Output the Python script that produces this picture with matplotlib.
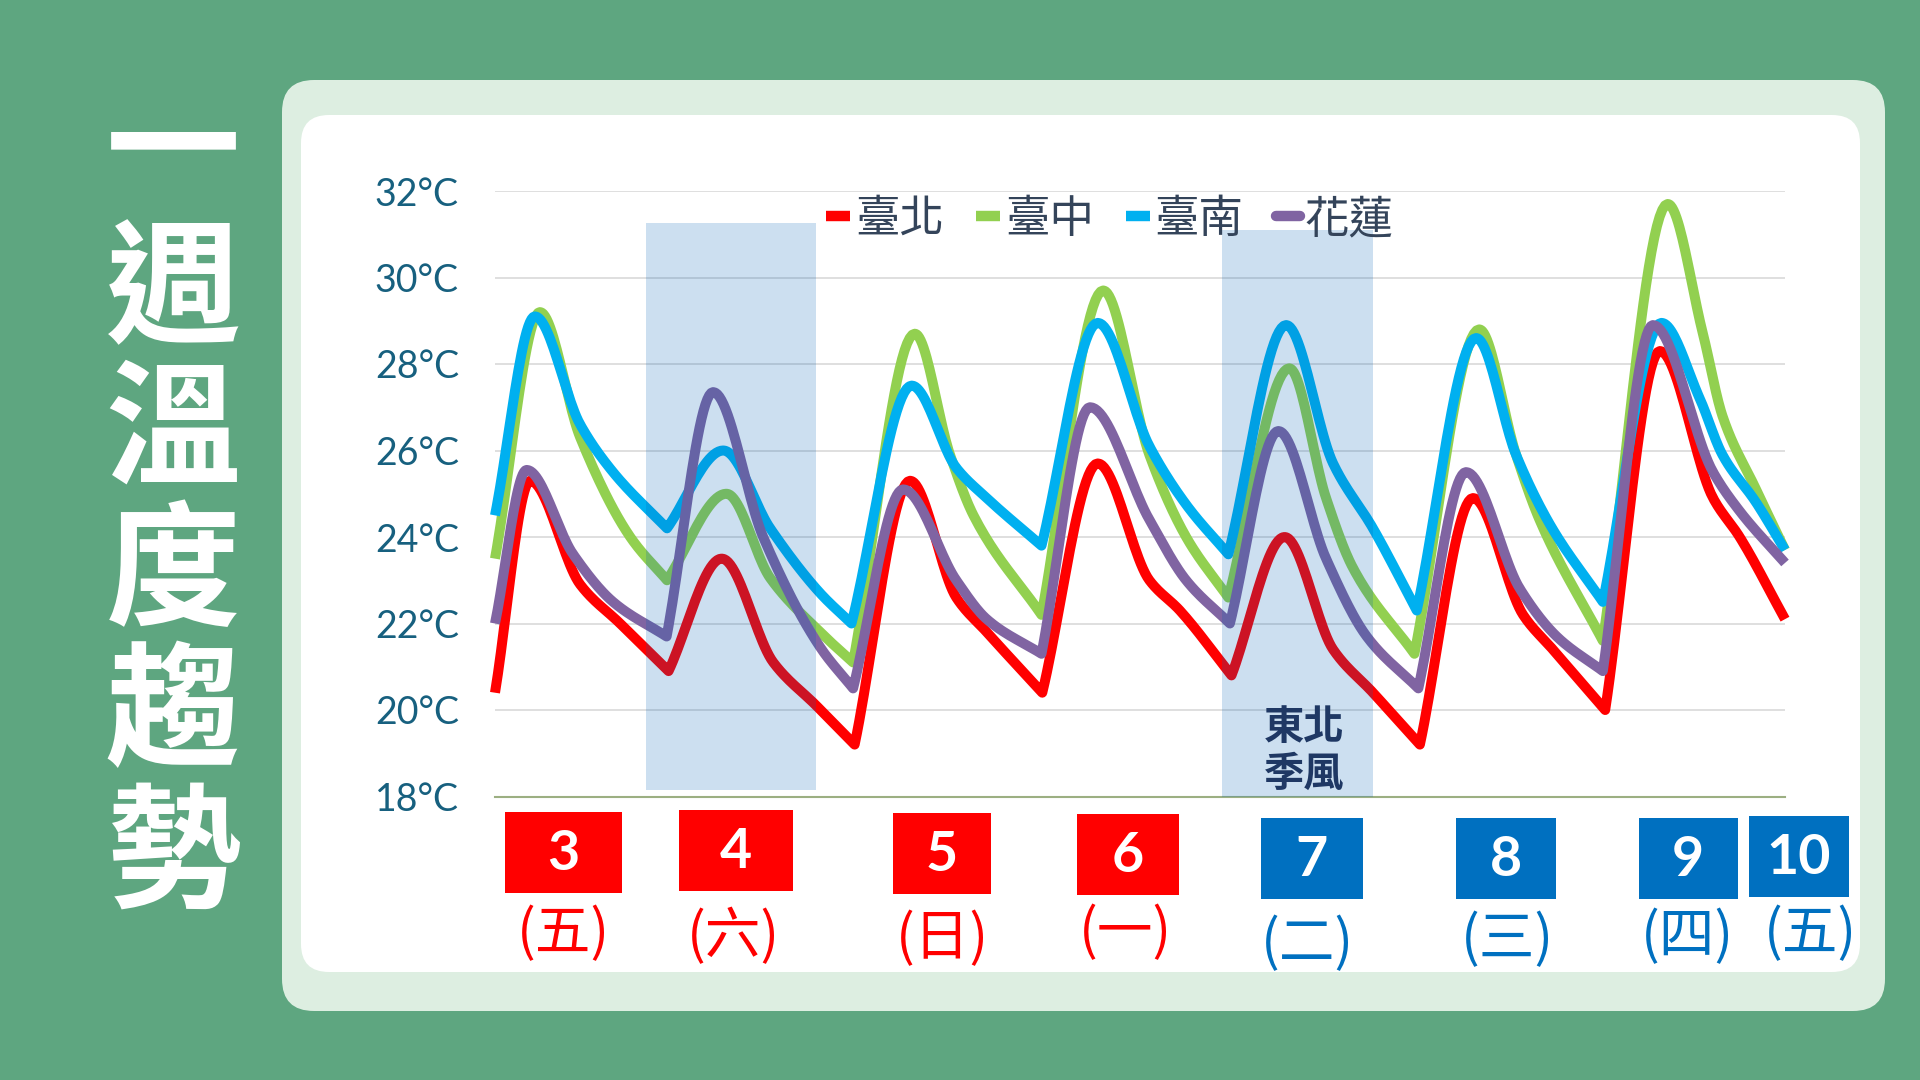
"""一週溫度趨勢: four-city temperature trend with date boxes underneath."""
import numpy as np
import matplotlib
matplotlib.use('Agg')
import matplotlib.pyplot as plt
from matplotlib.patches import Rectangle, FancyBboxPatch
from matplotlib.lines import Line2D
from matplotlib.transforms import IdentityTransform

# ---- data (hours after the first sample, degrees C) ----
cities = ['臺北', '臺中', '臺南', '花蓮']

taipei_h = [0, 4.5, 10.9, 16.0, 22.2, 29.0, 35.6, 41.1, 46.0, 53.1, 59.0, 62.9, 70.0, 77.1,
            83.7, 87.6, 94.2, 101.0, 107.2, 112.3, 118.3, 125.1, 131.5, 135.3, 142.0, 149.0,
            155.8, 159.2, 165]
taipei_t = [20.4, 25.3, 22.9, 22.0, 20.9, 23.5, 21.1, 20.1, 19.2, 25.3, 22.6, 21.8, 20.4, 25.7,
            23.0, 22.3, 20.8, 24.0, 21.4, 20.4, 19.2, 24.9, 22.2, 21.4, 20.0, 28.3,
            24.9, 24.0, 22.1]

taichung_h = [0, 5.75, 10.9, 17.3, 22.0, 29.6, 35.2, 41.6, 45.8, 53.7, 58.2, 61.2, 69.9, 77.8,
              83.7, 88.4, 93.8, 101.6, 106.3, 109.7, 117.6, 125.9, 130.6, 133.6, 141.7, 150.0,
              154.5, 157.0, 161.3, 165]
taichung_t = [23.5, 29.2, 26.3, 24.0, 23.0, 25.0, 23.05, 21.8, 21.1, 28.7, 25.9, 24.5, 22.2, 29.7,
              25.9, 24.0, 22.6, 27.9, 24.9, 23.3, 21.3, 28.8, 25.9, 24.4, 21.6, 31.7,
              28.7, 26.8, 25.1, 23.7]

tainan_h = [0, 5.1, 10.9, 15.1, 22.0, 29.2, 35.2, 41.6, 45.6, 53.3, 59.0, 62.9, 69.9, 77.1,
            83.7, 88.4, 93.8, 101.2, 107.2, 112.3, 117.9, 125.5, 130.6, 134.9, 141.7, 149.2,
            154.1, 157.0, 161.3, 165]
tainan_t = [24.5, 29.1, 26.6, 25.5, 24.2, 26.0, 24.2, 22.7, 22.0, 27.5, 25.6, 24.9, 23.8, 28.95,
            26.1, 24.75, 23.6, 28.9, 25.7, 24.2, 22.3, 28.6, 25.9, 24.3, 22.5, 28.95,
            27.2, 25.9, 24.8, 23.7]

hualien_h = [0, 4.05, 10.0, 15.1, 21.95, 27.9, 34.3, 41.6, 45.8, 52.2, 59.0, 62.9, 69.9, 76.1,
             83.7, 88.4, 94.0, 100.2, 106.3, 111.5, 118.1, 124.2, 131.1, 135.8, 141.7, 148.1,
             155.8, 159.2, 165]
hualien_t = [22.0, 25.55, 23.6, 22.5, 21.7, 27.35, 24.0, 21.45, 20.5, 25.1, 23.0, 22.1, 21.3, 27.0,
             24.4, 23.0, 22.0, 26.45, 23.5, 21.7, 20.5, 25.5, 22.8, 21.7, 20.9, 28.9,
             25.5, 24.6, 23.4]

# shaded periods (start hour, end hour, low, high) and their note
shade_spans = [(19.3, 41.1, 18.15, 31.25), (93.0, 112.3, 18.0, 31.1)]
monsoon_note = '東北\n季風'

yticks = [18, 20, 22, 24, 26, 28, 30, 32]
day_numbers = ['3', '4', '5', '6', '7', '8', '9', '10']
weekdays = ['(五)', '(六)', '(日)', '(一)', '(二)', '(三)', '(四)', '(五)']
title_chars = ['一', '週', '溫', '度', '趨', '勢']

# ---- style / layout ----
W, H = 1920, 1080
BG = '#5ea680'
MINT = '#ddeee1'
colors = ['#ff0000', '#92d050', '#00b0f0', '#8064a2']
RED, BLUE = '#ff0000', '#0070c0'
CJK = ['Noto Sans CJK TC', 'DejaVu Sans']

# date box centres (pixels) and widths, weekday label centres
box_pos = [(563, 852, 117), (736, 850, 114), (942, 853, 99), (1128, 854, 102),
           (1312, 858, 102), (1506, 858, 100), (1688, 858, 99), (1799, 856, 100)]
wd_pos = [(563, 934), (733, 937), (942, 939), (1125, 933),
          (1307, 944), (1507, 940), (1687, 937), (1810, 934)]


def smooth(xs, ys, n=24):
    # cubic Hermite through the points: rounded peaks, sharp troughs, no wobble
    x = np.asarray(xs, float)
    y = np.asarray(ys, float)
    d = np.diff(y) / np.diff(x)
    h = np.diff(x)
    m_out = np.zeros(len(x))   # tangent leaving point k
    m_in = np.zeros(len(x))    # tangent arriving at point k
    m_out[0] = m_in[0] = d[0]
    m_out[-1] = m_in[-1] = d[-1]
    for k in range(1, len(x) - 1):
        a, b = d[k - 1], d[k]
        if a < 0 < b:            # trough: keep the corner
            m_in[k], m_out[k] = a, b
        elif a * b <= 0:         # peak: flat top
            m_in[k] = m_out[k] = 0.0
        else:
            w1 = 2 * h[k] + h[k - 1]
            w2 = h[k] + 2 * h[k - 1]
            m_in[k] = m_out[k] = (w1 + w2) / (w1 / a + w2 / b)
    t = np.linspace(0, 1, n, endpoint=False)
    h00 = 2 * t ** 3 - 3 * t ** 2 + 1
    h10 = t ** 3 - 2 * t ** 2 + t
    h01 = -2 * t ** 3 + 3 * t ** 2
    h11 = t ** 3 - t ** 2
    px, py = [], []
    for k in range(len(x) - 1):
        px.append(x[k] + t * h[k])
        py.append(h00 * y[k] + h10 * h[k] * m_out[k] + h01 * y[k + 1] + h11 * h[k] * m_in[k + 1])
    px.append([x[-1]])
    py.append([y[-1]])
    return np.concatenate(px), np.concatenate(py)


def fx(x):
    return x / W


def fy(y):
    return 1 - y / H


fig = plt.figure(figsize=(19.2, 10.8), dpi=100, facecolor=BG)

# panel: mint frame with white inner card
fig.add_artist(FancyBboxPatch((282, 69), 1603, 931, boxstyle='round,pad=0,rounding_size=32',
                              transform=IdentityTransform(), facecolor=MINT, edgecolor='none',
                              zorder=-3))
fig.add_artist(FancyBboxPatch((301, 108), 1559, 857, boxstyle='round,pad=0,rounding_size=28',
                              transform=IdentityTransform(), facecolor='white', edgecolor='none',
                              zorder=-2))

# vertical title
for i, ch in enumerate(title_chars):
    fig.text(fx(173), fy(153 + i * 141), ch, color='white', fontsize=97, fontweight='heavy',
             family=CJK, ha='center', va='center')

# chart axes
ax = fig.add_axes([fx(495), fy(796.5), fx(1785) - fx(495), fy(191) - fy(796.5)])
ax.patch.set_visible(False)
ax.set_xlim(0, 165)
ax.set_ylim(18, 32)

series = [(taipei_h, taipei_t), (taichung_h, taichung_t), (tainan_h, tainan_t),
          (hualien_h, hualien_t)]
for (hh, tt), c in zip(series, colors):
    sx, sy = smooth(hh, tt)
    ax.plot(sx, sy, color=c, lw=7.2, solid_joinstyle='round', solid_capstyle='butt',
            zorder=2, clip_on=False)

for x0, x1, lo, hi in shade_spans:
    ax.add_patch(Rectangle((x0, lo), x1 - x0, hi - lo, facecolor='#0060b6', alpha=0.2,
                           edgecolor='none', zorder=3))
s0, s1 = shade_spans[1][0], shade_spans[1][1]
ax.text((s0 + s1) / 2 + 0.8, 19.05, monsoon_note, ha='center', va='center', fontsize=29,
        fontweight='bold', color='#1f3864', family=CJK, linespacing=1.2, zorder=6)

ax.set_yticks(yticks)
ax.set_yticklabels([f'{v}°C' for v in yticks], family=['Lato', 'DejaVu Sans'], fontsize=27,
                   color='#17607f')
ax.set_xticks([])
ax.tick_params(axis='y', length=0, pad=26)
ax.grid(axis='y', color='#d9d9d9', lw=1.2, zorder=0)
for side in ['top', 'right', 'left']:
    ax.spines[side].set_visible(False)
ax.spines['bottom'].set_color('#9caf82')
ax.spines['bottom'].set_linewidth(1.5)

handles = [Line2D([], [], color=c, lw=7.5,
                  solid_capstyle='round' if i == 3 else 'butt') for i, c in enumerate(colors)]
leg = ax.legend(handles, cities, loc='center left', bbox_to_anchor=(fx(826), fy(219)),
                bbox_transform=fig.transFigure, ncol=4, frameon=False, handlelength=0.55,
                handletextpad=0.1, columnspacing=0.72, borderpad=0, borderaxespad=0,
                prop={'family': CJK, 'size': 32}, labelcolor='#34445a')
leg.set_zorder(7)

# date boxes and weekday labels
for i, (num, wd) in enumerate(zip(day_numbers, weekdays)):
    c = RED if i < 4 else BLUE
    cx, cy, bw = box_pos[i]
    fig.add_artist(Rectangle((fx(cx - bw / 2), fy(cy + 40.5)), bw / W, 81 / H,
                             transform=fig.transFigure, facecolor=c, edgecolor='none'))
    fig.text(fx(cx), fy(cy + 2), num, color='white', fontsize=40, fontweight='bold',
             family=['Lato', 'DejaVu Sans'], ha='center', va='center')
    wx, wy = wd_pos[i]
    fig.text(fx(wx), fy(wy), wd, color=c, fontsize=40, family=CJK, ha='center', va='center')

fig.savefig('out.png', dpi=100, facecolor=BG)
